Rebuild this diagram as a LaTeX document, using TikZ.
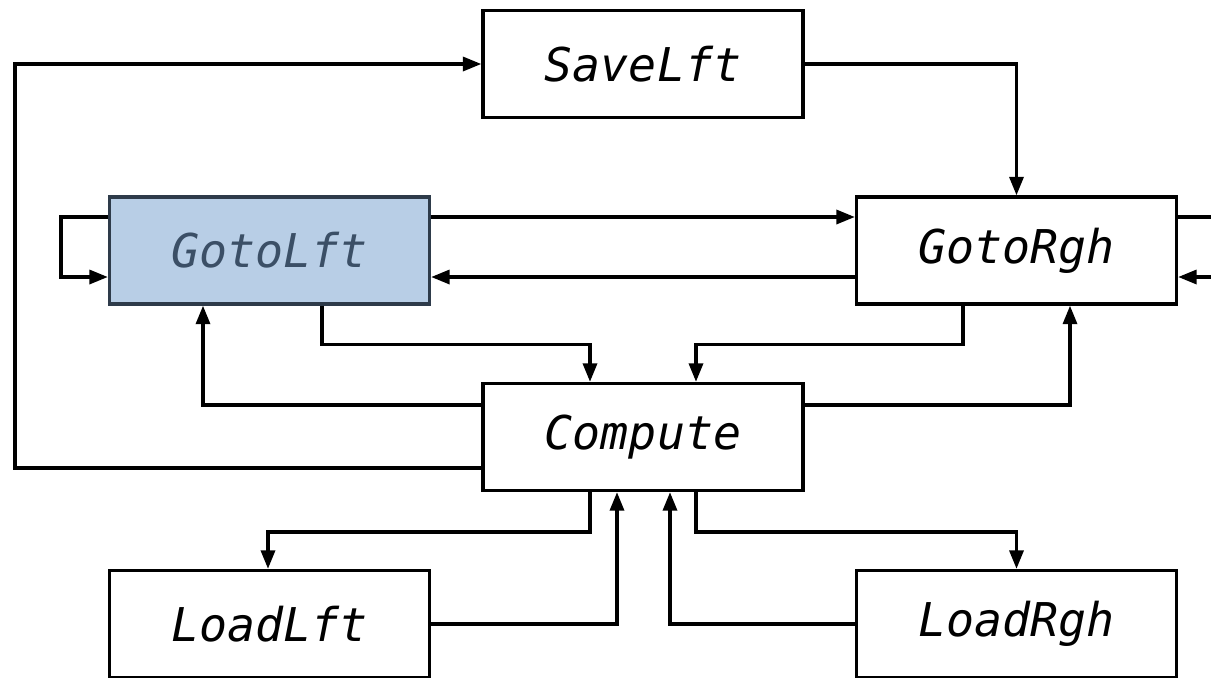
\documentclass[tikz,border=0pt]{standalone}
\usepackage{fontspec}
\newfontfamily\boxfont{DejaVu Sans Mono}
\usetikzlibrary{arrows.meta,calc}
\definecolor{hifill}{HTML}{B8CEE6}
\definecolor{hitext}{HTML}{3B4F66}
\definecolor{hiedge}{HTML}{2E3B4A}
\tikzset{
  stagebox/.style={draw, line width=1.9pt, minimum width=6.4cm, minimum height=2.14cm,
    inner sep=0pt, font=\boxfont\itshape\fontsize{26.5}{31}\selectfont},
  activebox/.style={stagebox, fill=hifill, draw=hiedge, text=hitext},
  flow/.style={line width=1.9pt, -{Triangle[length=0.37cm,width=0.28cm]}},
}
\begin{document}
\begin{tikzpicture}[x=0.02cm, y=-0.02cm]
\useasboundingbox (0,0) rectangle (1211,677);
\clip (0,0) rectangle (1211,677);

% stages
\node[stagebox]  (sl) at (643,64)      {\raisebox{-1pt}{SaveLft}};
\node[activebox] (gl) at (269.5,250.5) {\raisebox{-1pt}{GotoLft}};
\node[stagebox]  (gr) at (1016.5,250.5){\raisebox{-1pt}{GotoRgh}};
\node[stagebox]  (cp) at (643,437)     {\raisebox{-1pt}{Compute}};
\node[stagebox]  (ll) at (269.5,624)   {\raisebox{-1pt}{LoadLft}};
\node[stagebox]  (lr) at (1016.5,624)  {\raisebox{-1pt}{LoadRgh}};

% outer rail on the left
\coordinate (lrail) at (15,0);
\coordinate (cpout) at ($(cp.west)+(0,31)$);
\draw[flow] (cpout) -- (cpout -| lrail) |- (sl.west);

% save -> goto right
\draw[flow] (sl.east) -| (gr.north);

% between the two goto stages
\draw[flow] ($(gl.east)+(0,-33.5)$) -- ($(gr.west)+(0,-33.5)$);
\draw[flow] ($(gr.west)+(0,26.5)$) -- ($(gl.east)+(0,26.5)$);

% self loops
\draw[flow] ($(gl.west)+(0,-33.5)$) -- ++(-47,0) |- ($(gl.west)+(0,26.5)$);
\draw[flow] ($(gr.east)+(0,-33.5)$) -- ++(60,0) |- ($(gr.east)+(0,26.5)$);

% goto stages -> compute
\draw[flow] ($(gl.south)+(52.5,0)$) -- ++(0,39) -| ($(cp.north)+(-53,0)$);
\draw[flow] ($(gr.south)+(-53.5,0)$) -- ++(0,39) -| ($(cp.north)+(53,0)$);

% compute -> goto stages
\draw[flow] ($(cp.west)+(0,-32)$) -| ($(gl.south)+(-66.5,0)$);
\draw[flow] ($(cp.east)+(0,-32)$) -| ($(gr.south)+(53.5,0)$);

% compute <-> load stages
\draw[flow] ($(cp.south)+(-53,0)$) -- ++(0,40) -| ($(ll.north)+(-1.5,0)$);
\draw[flow] (ll.east) -| ($(cp.south)+(-26,0)$);
\draw[flow] (lr.west) -| ($(cp.south)+(27,0)$);
\draw[flow] ($(cp.south)+(53,0)$) -- ++(0,40) -| (lr.north);
\end{tikzpicture}
\end{document}
